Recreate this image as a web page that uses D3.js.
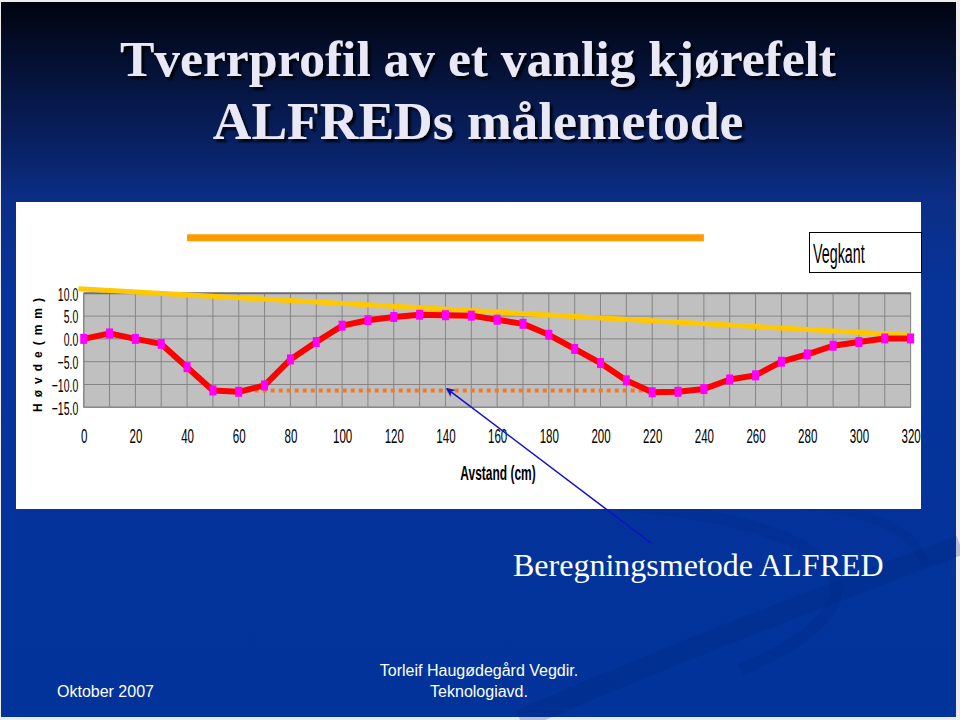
<!DOCTYPE html>
<html>
<head>
<meta charset="utf-8">
<script src="https://cdn.jsdelivr.net/npm/d3@7"></script>
<style>
  html, body { margin: 0; padding: 0; background: #ececec; }
  svg { display: block; }
</style>
</head>
<body>
<svg id="chart" width="960" height="720"></svg>
<script>
// ---------------- DATA ----------------
const distanceCm = [0,10,20,30,40,50,60,70,80,90,100,110,120,130,140,150,160,170,180,190,200,210,220,230,240,250,260,270,280,290,300,310,320];
const heightMm   = [0.0,1.2,0.0,-1.1,-6.2,-11.3,-11.6,-10.2,-4.5,-0.7,2.9,4.1,4.8,5.3,5.2,5.1,4.2,3.3,0.9,-2.2,-5.3,-9.1,-11.7,-11.6,-11.0,-8.9,-8.0,-5.0,-3.4,-1.5,-0.7,0.1,0.1];
const roadEdgeX  = [-2, 320];          // yellow reference line (Vegkant)
const roadEdgeY  = [11.0, 0.8];
const straightedgeX = [40, 240];       // orange 2 m straightedge
const straightedgeY = [22.2, 22.2];
const rutLevelX  = [60, 220];          // dotted rut level
const rutLevelY  = [-11.3, -11.3];
const xTicks = [0,20,40,60,80,100,120,140,160,180,200,220,240,260,280,300,320];
const yTicks = [-15,-10,-5,0,5,10];
const xGrid  = d3.range(0, 330, 10);
const titleLines = ["Tverrprofil av et vanlig kjørefelt", "ALFREDs målemetode"];
const arrowTarget = [140.5, -10.9];

// ---------------- SETUP ----------------
const svg = d3.select("#chart");
const defs = svg.append("defs");

const bg = defs.append("linearGradient").attr("id","bgGrad").attr("x1",0).attr("y1",0).attr("x2",0).attr("y2",1);
bg.append("stop").attr("offset","0%").attr("stop-color","#01040f");
bg.append("stop").attr("offset","14%").attr("stop-color","#07184a");
bg.append("stop").attr("offset","28%").attr("stop-color","#0b2e86");
bg.append("stop").attr("offset","40%").attr("stop-color","#06349a");
bg.append("stop").attr("offset","100%").attr("stop-color","#01339a");

const shadow = defs.append("filter").attr("id","tshadow").attr("x","-10%").attr("y","-20%").attr("width","120%").attr("height","150%");
shadow.append("feDropShadow").attr("dx",3).attr("dy",3).attr("stdDeviation",1.2).attr("flood-color","#000").attr("flood-opacity",0.85);

defs.append("marker").attr("id","arrowHead").attr("viewBox","0 0 10 10").attr("refX",9).attr("refY",5)
  .attr("markerWidth",9).attr("markerHeight",9).attr("markerUnits","userSpaceOnUse").attr("orient","auto")
  .append("path").attr("d","M0,0 L10,5 L0,10 L3,5 Z").attr("fill","#1010c8");

// slide background
svg.append("rect").attr("x",1).attr("y",2).attr("width",955).attr("height",715).attr("fill","url(#bgGrad)");

// subtle swooshes
const sw = svg.append("g").attr("fill","none").attr("stroke","#002478");
sw.append("path").attr("d","M520,720 C680,650 840,590 960,545").attr("stroke-width",20).attr("opacity",0.22);
sw.append("path").attr("d","M620,505 C740,515 820,540 835,580 C845,615 790,650 740,670").attr("stroke-width",12).attr("opacity",0.18);
sw.append("path").attr("d","M800,505 C870,510 915,530 925,565").attr("stroke-width",9).attr("opacity",0.15);

// titles
svg.append("g").selectAll("text").data(titleLines).join("text")
  .attr("x",478).attr("y",(d,i)=>i===0?76:139)
  .attr("text-anchor","middle")
  .attr("font-family","'Liberation Serif','Times New Roman',serif")
  .attr("font-weight","bold").attr("font-size",(d,i)=>i===0?51.5:53.5)
  .attr("fill","#e8e8f6").attr("filter","url(#tshadow)")
  .text(d=>d);

// chart panel
svg.append("rect").attr("x",16).attr("y",202).attr("width",905).attr("height",307).attr("fill","#ffffff");

const x = d3.scaleLinear().domain([0,320]).range([83.7,910.6]);
const y = d3.scaleLinear().domain([-15,10]).range([407.3,293.3]);
const SX = 0.55;

// plot area
const plot = svg.append("g");
plot.append("rect").attr("x",x(0)).attr("y",y(10)).attr("width",x(320)-x(0)+0.5).attr("height",y(-15)-y(10)).attr("fill","#c0c0c0");
plot.append("g").selectAll("line").data(xGrid).join("line")
  .attr("x1",d=>x(d)).attr("x2",d=>x(d)).attr("y1",y(10)).attr("y2",y(-15))
  .attr("stroke","#858585").attr("stroke-width",1);
plot.append("g").selectAll("line").data(yTicks).join("line")
  .attr("x1",x(0)).attr("x2",x(320)).attr("y1",d=>y(d)).attr("y2",d=>y(d))
  .attr("stroke","#858585").attr("stroke-width",1);
plot.append("line").attr("x1",x(0)).attr("x2",x(320)+0.5).attr("y1",y(10)).attr("y2",y(10)).attr("stroke","#6e6e6e").attr("stroke-width",2);
plot.append("line").attr("x1",x(0)).attr("x2",x(320)+0.5).attr("y1",y(-15)).attr("y2",y(-15)).attr("stroke","#8a8a8a").attr("stroke-width",1.5);
plot.append("line").attr("x1",x(0)).attr("x2",x(0)).attr("y1",y(10)).attr("y2",y(-15)).attr("stroke","#8a8a8a").attr("stroke-width",1.5);

// axes
const xAxis = svg.append("g").attr("transform",`translate(0,${y(-15)})`)
  .call(d3.axisBottom(x).tickValues(xTicks).tickSize(0).tickPadding(21).tickFormat(d3.format("d")));
xAxis.select(".domain").remove();
xAxis.selectAll("text").attr("font-family","'Liberation Sans',Arial,sans-serif").attr("font-size",21).attr("fill","#000")
  .attr("transform",`scale(${SX},1)`);

const yAxis = svg.append("g").attr("transform",`translate(${x(0)},0)`)
  .call(d3.axisLeft(y).tickValues(yTicks).tickSize(0).tickPadding(0).tickFormat(d3.format(".1f")));
yAxis.select(".domain").remove();
yAxis.selectAll("text").attr("font-family","'Liberation Sans',Arial,sans-serif").attr("font-size",19).attr("fill","#000")
  .attr("x",-5.5/SX).attr("dy","0.36em").attr("transform",`scale(${SX},1)`);

// axis titles
svg.append("text").attr("transform",`scale(0.57,1)`).attr("x",498/0.57).attr("y",480)
  .attr("text-anchor","middle").attr("font-family","'Liberation Sans',Arial,sans-serif")
  .attr("font-weight","bold").attr("font-size",21).attr("fill","#000").text("Avstand (cm)");

svg.append("text").attr("transform","translate(41.5,412) rotate(-90)")
  .attr("font-family","'Liberation Sans',Arial,sans-serif").attr("font-weight","bold").attr("font-size",12)
  .attr("textLength",114).attr("lengthAdjust","spacing").attr("fill","#000").text("H ø v d e ( m m )");

// straightedge (orange)
const line = d3.line().x(d=>x(d[0])).y(d=>y(d[1]));
svg.append("path").datum(d3.zip(straightedgeX, straightedgeY)).attr("d",line)
  .attr("stroke","#ff9a00").attr("stroke-width",7).attr("fill","none");

// rut level dotted
svg.append("path").datum(d3.zip(rutLevelX, rutLevelY)).attr("d",line)
  .attr("stroke","#f07a2a").attr("stroke-width",4).attr("stroke-dasharray","4,4").attr("fill","none");

// road-edge yellow line
svg.append("path").datum(d3.zip(roadEdgeX, roadEdgeY)).attr("d",line)
  .attr("stroke","#ffc800").attr("stroke-width",5).attr("fill","none");

// profile
svg.append("path").datum(d3.zip(distanceCm, heightMm)).attr("d",line)
  .attr("stroke","#ff0000").attr("stroke-width",6).attr("stroke-linejoin","round").attr("fill","none");
svg.append("g").selectAll("rect").data(d3.zip(distanceCm, heightMm)).join("rect")
  .attr("x",d=>x(d[0])-3.5).attr("y",d=>y(d[1])-5).attr("width",7).attr("height",10).attr("fill","#ff00ff");

// Vegkant label box
svg.append("rect").attr("x",809.5).attr("y",232.5).attr("width",112).attr("height",40).attr("fill","#fff").attr("stroke","#000").attr("stroke-width",1);
svg.append("text").attr("transform","scale(0.53,1)").attr("x",813/0.53).attr("y",263)
  .attr("font-family","'Liberation Sans',Arial,sans-serif").attr("font-size",27).attr("fill","#000").text("Vegkant");

// arrow
svg.append("line").attr("x1",651).attr("y1",543).attr("x2",x(arrowTarget[0])).attr("y2",y(arrowTarget[1]))
  .attr("stroke","#1010c8").attr("stroke-width",1.5).attr("marker-end","url(#arrowHead)");

// caption
svg.append("text").attr("x",513).attr("y",576).attr("font-family","'Liberation Serif','Times New Roman',serif")
  .attr("font-size",32).attr("fill","#ffffff").text("Beregningsmetode ALFRED");

// footer
const foot = svg.append("g").attr("font-family","'Liberation Sans',Arial,sans-serif").attr("font-size",16).attr("fill","#ffffff");
foot.append("text").attr("x",57).attr("y",697).text("Oktober 2007");
foot.append("text").attr("x",479).attr("y",676).attr("text-anchor","middle").text("Torleif Haugødegård Vegdir.");
foot.append("text").attr("x",479).attr("y",697).attr("text-anchor","middle").text("Teknologiavd.");
</script>
</body>
</html>
